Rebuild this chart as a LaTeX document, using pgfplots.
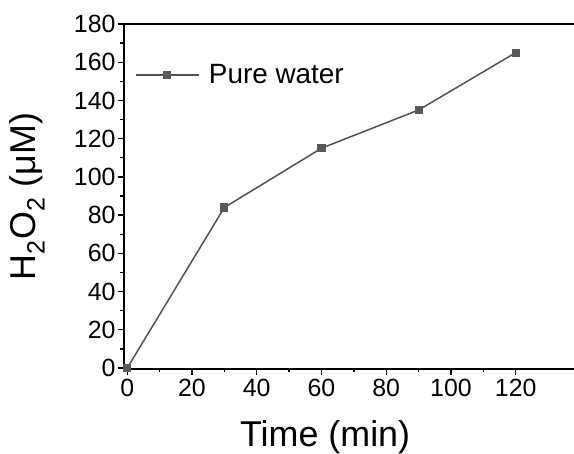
\documentclass[border=0pt]{standalone}
\usepackage{pgfplots}
\pgfplotsset{compat=1.18}
\usepackage{fontspec}
\setmainfont{Liberation Sans}
\begin{document}
\begin{tikzpicture}
  \begin{axis}[
    scale only axis,
    width=450bp, height=345bp,
    xmin=-1, xmax=138,
    ymin=-0.5, ymax=180,
    axis x line*=bottom,
    axis y line*=left,
    axis line style={line width=1.6bp, -},
    xtick={0,20,...,120},
    ytick={0,20,...,180},
    minor x tick num=1,
    minor y tick num=1,
    tick align=outside,
    tick style={line width=1.3bp, black},
    major tick length=6bp,
    minor tick length=3.5bp,
    tick label style={font=\fontsize{25}{28}\selectfont},
    xticklabel style={yshift=-1bp},
    yticklabel style={xshift=1bp},
    /pgf/number format/assume math mode=true,
    xlabel={Time (min)},
    ylabel={H\textsubscript{2}O\textsubscript{2} (μM)},
    label style={font=\fontsize{36}{40}\selectfont},
    xlabel style={at={(axis description cs:0.447,-0.197)}, anchor=center},
    ylabel style={at={(axis description cs:-0.215,0.5)}, anchor=center, rotate=0},
    legend style={draw=none, fill=none, at={(axis description cs:0.025,0.852)},
      anchor=west, inner sep=0pt,
      font=\fontsize{28}{32}\selectfont,
      /tikz/every odd column/.append style={column sep=7bp}},
    legend image code/.code={
      \draw[mark repeat=2, mark phase=2, #1]
        plot coordinates {(0bp,0bp) (31bp,0bp) (63bp,0bp)};
    },
    legend cell align=left,
    clip=false,
  ]
    \draw[line width=1.6bp] (rel axis cs:0,1) -- (rel axis cs:1,1);
    \addplot[color=black!68, line width=1.5bp, mark=square*,
      mark size=3.3bp, mark options={fill=black!65, draw=black!65}]
      coordinates {(0,0) (30,84) (60,115) (90,135) (120,165)};
    \addlegendentry{Pure water}
    \coordinate (bl) at (axis description cs:-0.27556,-0.24638);
    \coordinate (tr) at (axis description cs:1,1.06957);
  \end{axis}
  \pgfresetboundingbox
  \path[use as bounding box] (bl) rectangle (tr);
\end{tikzpicture}
\end{document}
